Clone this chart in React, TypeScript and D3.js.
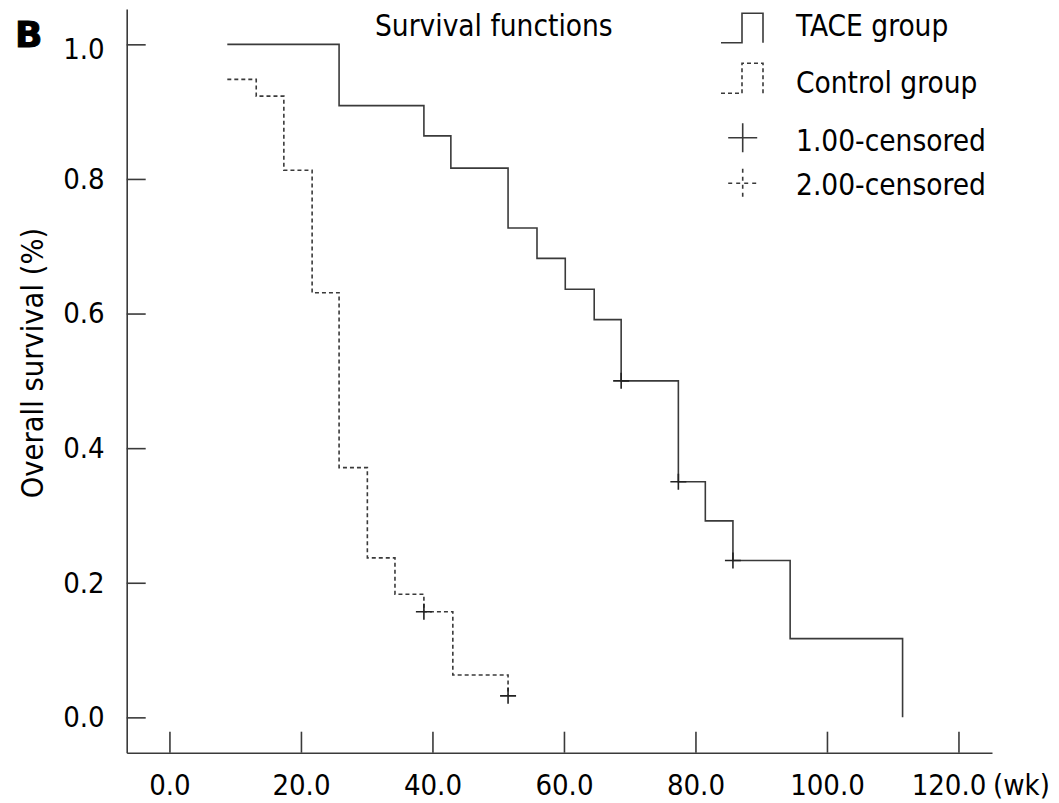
import { useRef, useEffect } from 'react';
import * as d3 from 'd3';

// Kaplan-Meier steps (weeks, survival)
const taceTimes = [8.8, 25.8, 38.7, 42.8, 51.5, 55.9, 60.2, 64.6, 68.7, 77.4, 81.5, 85.7, 94.4, 111.5];
const taceSurv = [1, 0.909, 0.864, 0.816, 0.727, 0.682, 0.636, 0.591, 0.5, 0.35, 0.292, 0.233, 0.117, 0];
const controlTimes = [8.8, 13.2, 17.4, 21.7, 25.8, 30.1, 34.3, 38.7, 43.1, 51.5];
const controlSurv = [0.948, 0.923, 0.813, 0.631, 0.371, 0.237, 0.183, 0.157, 0.063, 0.032];

// censored observations
const taceCensorTimes = [68.7, 77.4, 85.7];
const taceCensorSurv = [0.5, 0.35, 0.233];
const controlCensorTimes = [38.7, 51.5];
const controlCensorSurv = [0.157, 0.032];

const xTicks = [0, 20, 40, 60, 80, 100, 120];
const yTicks = [0, 0.2, 0.4, 0.6, 0.8, 1.0];
const legendLabels = ['TACE group', 'Control group', '1.00-censored', '2.00-censored'];

const WIDTH = 1059;
const HEIGHT = 803;
const FONT = "'DejaVu Sans Condensed', 'DejaVu Sans', sans-serif";
const INK = '#3a3a3a';

export default function App() {
  const svgRef = useRef<SVGSVGElement>(null);

  useEffect(() => {
    if (!svgRef.current) return;
    document.body.style.margin = '0';

    const svg = d3.select(svgRef.current);
    svg.selectAll('*').remove();
    svg.attr('width', WIDTH).attr('height', HEIGHT);

    svg.append('rect').attr('width', WIDTH).attr('height', HEIGHT).attr('fill', '#fff');

    const x = d3.scaleLinear().domain([-6.5, 125.1]).range([126.7, 992]);
    const y = d3.scaleLinear().domain([-0.0525, 1.0525]).range([752.7, 9]);

    // Axes (ticks pointing inward)
    const xAxis = svg
      .append('g')
      .attr('transform', `translate(0,${y.range()[0]})`)
      .call(
        d3.axisBottom(x)
          .tickValues(xTicks)
          .tickSizeInner(-21)
          .tickSizeOuter(0)
          .tickPadding(22)
          .tickFormat((d) => d3.format('.1f')(d as number))
      );
    xAxis.select('.domain').attr('stroke', INK).attr('stroke-width', 1.6);
    xAxis.selectAll('.tick line').attr('stroke', INK).attr('stroke-width', 1.6);
    xAxis
      .selectAll('.tick text')
      .attr('font-family', FONT)
      .attr('font-size', 29)
      .attr('fill', '#000')
      .attr('dy', '0.71em');
    xAxis
      .selectAll<SVGTextElement, number>('.tick text')
      .filter((d) => d === 120)
      .attr('x', -10);

    svg
      .append('text')
      .attr('x', 993)
      .attr('y', 795)
      .attr('font-family', FONT)
      .attr('font-size', 29)
      .attr('fill', '#000')
      .text('(wk)');

    const yAxis = svg
      .append('g')
      .attr('transform', `translate(${x.range()[0]},0)`)
      .call(
        d3.axisLeft(y)
          .tickValues(yTicks)
          .tickSizeInner(-19)
          .tickSizeOuter(0)
          .tickPadding(22)
          .tickFormat((d) => d3.format('.1f')(d as number))
      );
    yAxis.select('.domain').attr('stroke', INK).attr('stroke-width', 1.6);
    yAxis.selectAll('.tick line').attr('stroke', INK).attr('stroke-width', 1.6);
    yAxis
      .selectAll('.tick text')
      .attr('font-family', FONT)
      .attr('font-size', 29)
      .attr('fill', '#000');
    yAxis
      .selectAll<SVGTextElement, number>('.tick text')
      .filter((d) => d === 1)
      .attr('dy', '0.5em');

    // Axis title
    svg
      .append('text')
      .attr('transform', 'translate(43,363) rotate(-90)')
      .attr('text-anchor', 'middle')
      .attr('font-family', FONT)
      .attr('font-size', 30.5)
      .attr('fill', '#000')
      .text('Overall survival (%)');

    // Panel letter
    svg
      .append('text')
      .attr('x', 15)
      .attr('y', 47)
      .attr('font-family', "'DejaVu Sans', sans-serif")
      .attr('font-weight', 'bold')
      .attr('font-size', 36)
      .attr('stroke', '#000')
      .attr('stroke-width', 1)
      .attr('fill', '#000')
      .text('B');

    svg
      .append('text')
      .attr('x', 375)
      .attr('y', 36)
      .attr('font-family', FONT)
      .attr('font-size', 29.5)
      .attr('fill', '#000')
      .text('Survival functions');

    // Survival curves
    const step = d3
      .line<[number, number]>()
      .x((d) => x(d[0]))
      .y((d) => y(d[1]))
      .curve(d3.curveStepAfter);

    const tace = taceTimes.map((t, i) => [t, taceSurv[i]] as [number, number]);
    const control = controlTimes.map((t, i) => [t, controlSurv[i]] as [number, number]);

    svg
      .append('path')
      .attr('d', step(tace))
      .attr('fill', 'none')
      .attr('stroke', INK)
      .attr('stroke-width', 1.6);

    svg
      .append('path')
      .attr('d', step(control))
      .attr('fill', 'none')
      .attr('stroke', INK)
      .attr('stroke-width', 1.6)
      .attr('stroke-dasharray', '4,3');

    // Censor marks
    const censors = [
      ...taceCensorTimes.map((t, i) => [t, taceCensorSurv[i]]),
      ...controlCensorTimes.map((t, i) => [t, controlCensorSurv[i]]),
    ];
    const arm = 8;
    censors.forEach(([t, s]) => {
      const cx = x(t);
      const cy = y(s);
      svg
        .append('path')
        .attr('d', `M${cx - arm},${cy}H${cx + arm}M${cx},${cy - arm}V${cy + arm}`)
        .attr('stroke', '#222')
        .attr('stroke-width', 1.6)
        .attr('fill', 'none');
    });

    // Legend
    const lg = svg.append('g');
    const symX0 = 721;
    const symX1 = 742;
    const symX2 = 763;
    lg.append('path')
      .attr('d', `M${symX0},42.7H${symX1}V13.3H${symX2}V42.7`)
      .attr('fill', 'none')
      .attr('stroke', INK)
      .attr('stroke-width', 1.6);
    lg.append('path')
      .attr('d', `M${symX0},93.3H${symX1}V63.3H${symX2}V93.3`)
      .attr('fill', 'none')
      .attr('stroke', INK)
      .attr('stroke-width', 1.6)
      .attr('stroke-dasharray', '4,3');
    const la = 14.5;
    lg.append('path')
      .attr('d', `M${742.7 - la},137.7H${742.7 + la}M742.7,${137.7 - la}V${137.7 + la}`)
      .attr('fill', 'none')
      .attr('stroke', INK)
      .attr('stroke-width', 1.6);
    lg.append('path')
      .attr('d', `M${742.7 - la},183.3H${742.7 + la}M742.7,${183.3 - la}V${183.3 + la}`)
      .attr('fill', 'none')
      .attr('stroke', INK)
      .attr('stroke-width', 1.6)
      .attr('stroke-dasharray', '4,4');

    const legendBaselines = [36, 93, 151, 195];
    lg.selectAll('.legend-label')
      .data(legendLabels)
      .join('text')
      .attr('class', 'legend-label')
      .attr('x', 796)
      .attr('y', (_, i) => legendBaselines[i])
      .attr('font-family', FONT)
      .attr('font-size', 29.5)
      .attr('fill', '#000')
      .text((d) => d);
  }, []);

  return <svg ref={svgRef} style={{ display: 'block' }} />;
}
